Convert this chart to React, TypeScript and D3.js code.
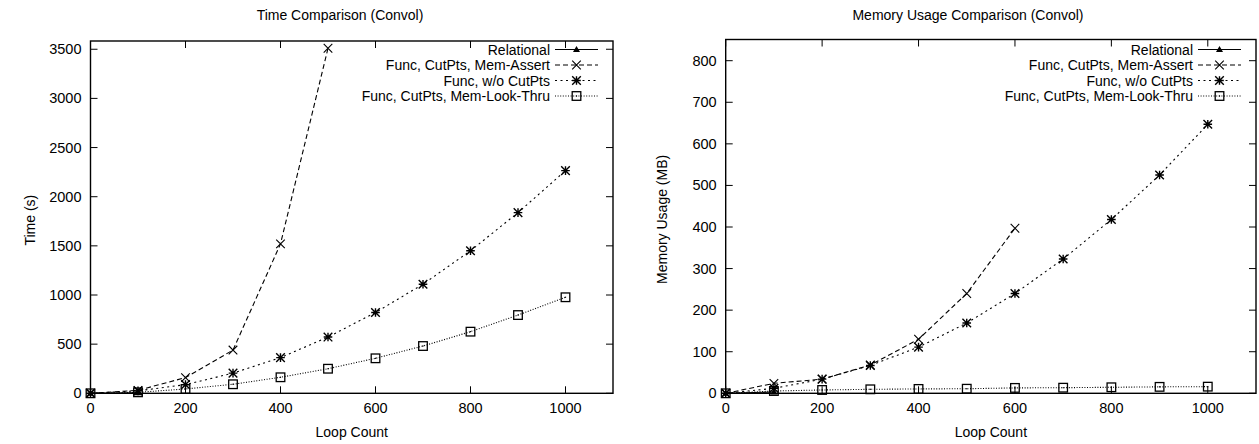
import React from "react";
import * as d3 from "d3";

const loopCounts = [0, 100, 200, 300, 400, 500, 600, 700, 800, 900, 1000];
const xTicks = [0, 200, 400, 600, 800, 1000];

const seriesNames = ["Relational", "Func, CutPts, Mem-Assert", "Func, w/o CutPts", "Func, CutPts, Mem-Look-Thru"];

// Time (s)
const timeRelational = [0, 6];
const timeMemAssert = [0, 30, 160, 440, 1520, 3510];
const timeWoCutPts = [0, 25, 88, 205, 363, 572, 822, 1110, 1450, 1838, 2265];
const timeLookThru = [0, 10, 44, 92, 163, 250, 356, 481, 627, 796, 977];
const timeYTicks = [0, 500, 1000, 1500, 2000, 2500, 3000, 3500];

// Memory (MB)
const memRelational = [0, 3];
const memMemAssert = [0, 24, 34, 68, 130, 240, 397];
const memWoCutPts = [0, 12, 34, 67, 111, 169, 240, 323, 418, 525, 647];
const memLookThru = [0, 5.5, 8, 9.6, 10.5, 11, 13, 13.5, 14.5, 15.5, 16];
const memYTicks = [0, 100, 200, 300, 400, 500, 600, 700, 800];

const styles = [
  { dash: "none", marker: "tri" },
  { dash: "5,3", marker: "x" },
  { dash: "2,3.5", marker: "star" },
  { dash: "1,1.6", marker: "sq" },
];

const FONT = "'Liberation Sans', Arial, Helvetica, sans-serif";

function Marker({ type, x, y }: { type: string; x: number; y: number }) {
  const s = 4.3;
  if (type === "tri") {
    return <path d={`M${x},${y - 3.5}L${x + 3.5},${y + 2.5}L${x - 3.5},${y + 2.5}Z`} fill="#000" />;
  }
  if (type === "x") {
    return (
      <path d={`M${x - s},${y - s}L${x + s},${y + s}M${x - s},${y + s}L${x + s},${y - s}`} stroke="#000" strokeWidth={1.1} />
    );
  }
  if (type === "star") {
    return (
      <path
        d={`M${x - s},${y - s}L${x + s},${y + s}M${x - s},${y + s}L${x + s},${y - s}M${x - s},${y}L${x + s},${y}M${x},${y - s}L${x},${y + s}`}
        stroke="#000"
        strokeWidth={1.4}
      />
    );
  }
  return (
    <g>
      <rect x={x - s} y={y - s} width={2 * s} height={2 * s} fill="none" stroke="#000" strokeWidth={1.3} />
      <rect x={x - 0.6} y={y - 0.6} width={1.2} height={1.2} fill="#000" />
    </g>
  );
}

type PanelProps = {
  left: number;
  right: number;
  top: number;
  bottom: number;
  yMax: number;
  yTicks: number[];
  data: number[][];
  title: string;
  titleX: number;
  yLabel: string;
  yLabelX: number;
  legendRows: number[];
};

function Panel(p: PanelProps) {
  const x = d3.scaleLinear().domain([0, 1100]).range([p.left, p.right]);
  const y = d3.scaleLinear().domain([0, p.yMax]).range([p.bottom, p.top]);
  const line = d3
    .line<[number, number]>()
    .x((d) => x(d[0]))
    .y((d) => y(d[1]));
  const tl = 7;
  const cx = (p.left + p.right) / 2;
  const textEnd = p.right - 63;
  const sampleStart = p.right - 58;
  const sampleEnd = p.right - 15;
  return (
    <g fontFamily={FONT} fill="#000">
      <text x={p.titleX} y={15} textAnchor="middle" dominantBaseline="central" fontSize={14}>
        {p.title}
      </text>
      {xTicks.map((t) => (
        <g key={"x" + t}>
          <line x1={x(t)} x2={x(t)} y1={p.bottom} y2={p.bottom - tl} stroke="#000" />
          <line x1={x(t)} x2={x(t)} y1={p.top} y2={p.top + tl} stroke="#000" />
          <text x={x(t)} y={408} textAnchor="middle" dominantBaseline="central" fontSize={14.5}>
            {t}
          </text>
        </g>
      ))}
      {p.yTicks.map((t) => (
        <g key={"y" + t}>
          <line x1={p.left} x2={p.left + tl} y1={y(t)} y2={y(t)} stroke="#000" />
          <line x1={p.right} x2={p.right - tl} y1={y(t)} y2={y(t)} stroke="#000" />
          <text x={p.left - 9} y={y(t)} textAnchor="end" dominantBaseline="central" fontSize={14.5}>
            {t}
          </text>
        </g>
      ))}
      <rect x={p.left} y={p.top} width={p.right - p.left} height={p.bottom - p.top} fill="none" stroke="#000" strokeWidth={1.4} />
      <text x={cx} y={432} textAnchor="middle" dominantBaseline="central" fontSize={14}>
        Loop Count
      </text>
      <text
        transform={`translate(${p.yLabelX},${(p.top + p.bottom) / 2 + 3}) rotate(-90)`}
        textAnchor="middle"
        dominantBaseline="central"
        fontSize={14}
      >
        {p.yLabel}
      </text>
      {p.data.map((vals, i) => {
        const pts: [number, number][] = vals.map((v, j) => [loopCounts[j], v]);
        return (
          <g key={"s" + i}>
            <path d={line(pts) || ""} fill="none" stroke="#000" strokeWidth={1.1} strokeDasharray={styles[i].dash} />
            {pts.map((d, j) => (
              <Marker key={j} type={styles[i].marker} x={x(d[0])} y={y(d[1])} />
            ))}
          </g>
        );
      })}
      {seriesNames.map((name, i) => (
        <g key={"l" + i}>
          <text x={textEnd} y={p.legendRows[i]} textAnchor="end" dominantBaseline="central" fontSize={14}>
            {name}
          </text>
          <line
            x1={sampleStart}
            x2={sampleEnd}
            y1={p.legendRows[i]}
            y2={p.legendRows[i]}
            stroke="#000"
            strokeWidth={1.1}
            strokeDasharray={styles[i].dash}
          />
          <Marker type={styles[i].marker} x={(sampleStart + sampleEnd) / 2} y={p.legendRows[i]} />
        </g>
      ))}
    </g>
  );
}

export default function App() {
  return (
    <svg width={1259} height={444} style={{ position: "absolute", left: 0, top: 0, background: "#fff" }}>
      <rect width={1259} height={444} fill="#fff" />
      <Panel
        left={90.5}
        right={613}
        top={41}
        bottom={393.3}
        yMax={3584}
        yTicks={timeYTicks}
        data={[timeRelational, timeMemAssert, timeWoCutPts, timeLookThru]}
        title="Time Comparison (Convol)"
        titleX={340}
        yLabel="Time (s)"
        yLabelX={30}
        legendRows={[49.5, 65, 80.5, 96]}
      />
      <Panel
        left={725.7}
        right={1256}
        top={39.5}
        bottom={393.3}
        yMax={851}
        yTicks={memYTicks}
        data={[memRelational, memMemAssert, memWoCutPts, memLookThru]}
        title="Memory Usage Comparison (Convol)"
        titleX={968}
        yLabel="Memory Usage (MB)"
        yLabelX={662}
        legendRows={[49.5, 65, 80.5, 96]}
      />
    </svg>
  );
}
